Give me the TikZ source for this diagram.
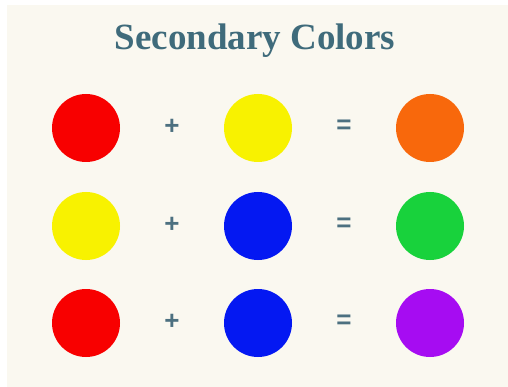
\documentclass[tikz,border=0pt]{standalone}
\usepackage{fontspec}
\setmainfont{Liberation Serif}
\setsansfont{Liberation Sans}
\usepackage{xcolor}
\usetikzlibrary{positioning}

\definecolor{cream}{HTML}{FAF8F0}
\definecolor{titleblue}{HTML}{3F6B7B}
\definecolor{signgray}{HTML}{4C7080}
\definecolor{cred}{HTML}{F80000}
\definecolor{cyellow}{HTML}{F8F200}
\definecolor{corange}{HTML}{F8680C}
\definecolor{cblue}{HTML}{0418F2}
\definecolor{cgreen}{HTML}{18D23C}
\definecolor{cpurple}{HTML}{A60CF2}

\begin{document}
\begin{tikzpicture}[x=1pt,y=-1pt]

\tikzstyle{paint}=[circle,minimum size=68pt,inner sep=0pt]
\tikzstyle{sign}=[text=signgray,font=\sffamily\bfseries\fontsize{26}{26}\selectfont]

% page and background
\useasboundingbox[fill=white] (0,0) rectangle (508,387);
\fill[cream] (7,5) rectangle (520,400);

\node (title) [text=titleblue,font=\bfseries\fontsize{37}{37}\selectfont] at (255,41) {Secondary Colors};

% red + yellow = orange
\node (red1) [paint,fill=cred] at (86,128) {};
\node (plus1) [sign] at (172,127) {+};
\node (yellow1) [paint,fill=cyellow] at (258,128) {};
\node (eq1) [sign] at (344,127) {=};
\node (orange) [paint,fill=corange] at (430,128) {};

% yellow + blue = green
\node (yellow2) [paint,fill=cyellow] at (86,226) {};
\node (plus2) [sign] at (172,225) {+};
\node (blue1) [paint,fill=cblue] at (258,226) {};
\node (eq2) [sign] at (344,225) {=};
\node (green) [paint,fill=cgreen] at (430,226) {};

% red + blue = purple
\node (red2) [paint,fill=cred] at (86,323) {};
\node (plus3) [sign] at (172,322) {+};
\node (blue2) [paint,fill=cblue] at (258,323) {};
\node (eq3) [sign] at (344,322) {=};
\node (purple) [paint,fill=cpurple] at (430,323) {};

\end{tikzpicture}
\end{document}
